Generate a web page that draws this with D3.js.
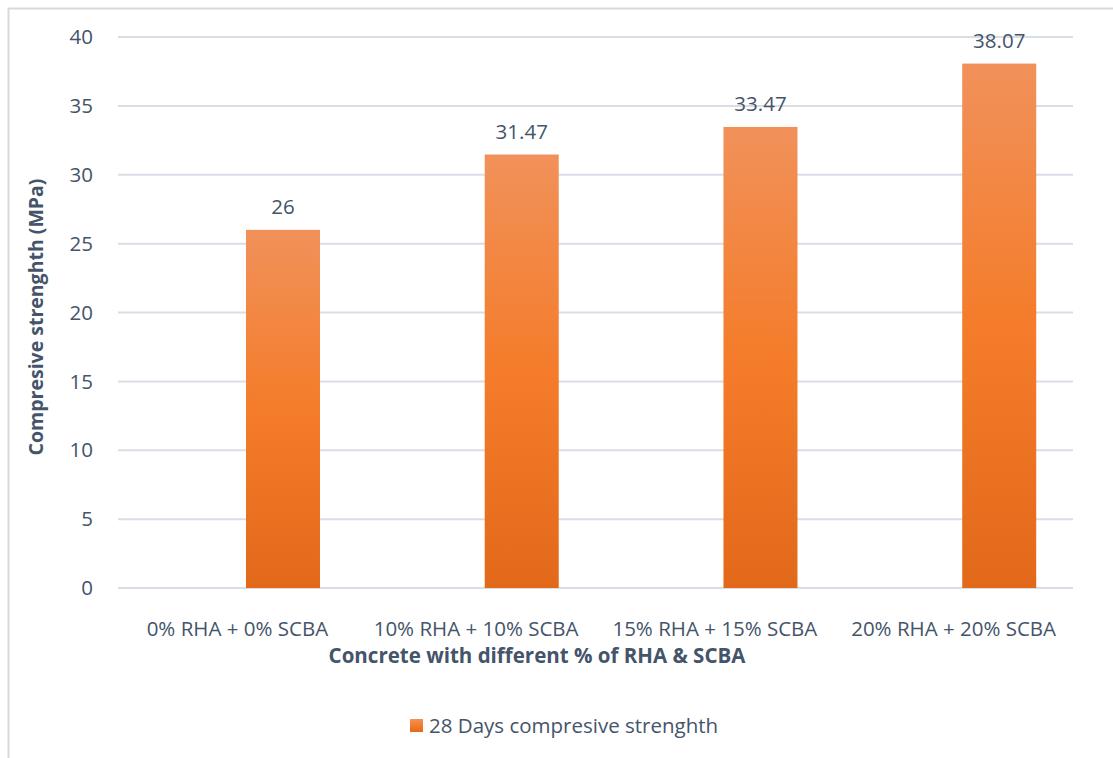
<!DOCTYPE html>
<html>
<head>
<meta charset="utf-8">
<script src="https://cdn.jsdelivr.net/npm/d3@7"></script>
<style>
  body { margin: 0; background: #fff; }
  text { font-family: "Open Sans", sans-serif; fill: #44546A; }
</style>
</head>
<body>
<div id="chart"></div>
<script>
const width = 1113;
const height = 758;

// chart data
const categories = ["0% RHA + 0% SCBA", "10% RHA + 10% SCBA", "15% RHA + 15% SCBA", "20% RHA + 20% SCBA"];
const strength28 = [26, 31.47, 33.47, 38.07];
const valueLabels = ["26", "31.47", "33.47", "38.07"];
const yTicks = [0, 5, 10, 15, 20, 25, 30, 35, 40];

const margin = { top: 37, right: 40, bottom: 170, left: 118 };
const fs = "20.5px";

const svg = d3.select("#chart").append("svg")
    .attr("width", width)
    .attr("height", height);

// gradient like the excel fill
const grad = svg.append("defs").append("linearGradient")
    .attr("id", "barFill")
    .attr("x1", 0).attr("y1", 0).attr("x2", 0).attr("y2", 1);
grad.append("stop").attr("offset", "0%").attr("stop-color", "#F1915A");
grad.append("stop").attr("offset", "50%").attr("stop-color", "#F47C2A");
grad.append("stop").attr("offset", "100%").attr("stop-color", "#E3691A");

// outer frame (left and top edges only visible)
svg.append("path")
    .attr("d", `M8.5,${height} V8.5 H${width}`)
    .attr("fill", "none")
    .attr("stroke", "#D9D9D9")
    .attr("stroke-width", 2);

const x = d3.scaleBand()
    .domain(categories)
    .range([margin.left, width - margin.right]);

const y = d3.scaleLinear()
    .domain([0, 40])
    .range([height - margin.bottom, margin.top]);

// gridlines
svg.append("g")
    .selectAll("line")
    .data(yTicks)
    .enter().append("line")
    .attr("x1", margin.left)
    .attr("x2", width - margin.right)
    .attr("y1", d => y(d))
    .attr("y2", d => y(d))
    .attr("stroke", "#D9DEE6")
    .attr("stroke-width", 2);

// y tick labels
svg.append("g")
    .selectAll("text")
    .data(yTicks)
    .enter().append("text")
    .attr("x", 93)
    .attr("y", d => y(d))
    .attr("dy", "0.35em")
    .attr("text-anchor", "end")
    .attr("font-size", fs)
    .text(d => d);

// bars sit in the right part of each band (second series slot)
const barOffset = 0.536;
const barWidth = 0.31;

svg.append("g")
    .selectAll("rect")
    .data(strength28)
    .enter().append("rect")
    .attr("x", (d, i) => x(categories[i]) + x.bandwidth() * barOffset)
    .attr("width", x.bandwidth() * barWidth)
    .attr("y", d => y(d))
    .attr("height", d => y(0) - y(d))
    .attr("fill", "url(#barFill)");

// value labels
svg.append("g")
    .selectAll("text")
    .data(strength28)
    .enter().append("text")
    .attr("x", (d, i) => x(categories[i]) + x.bandwidth() * (barOffset + barWidth / 2))
    .attr("y", d => y(d) - 16)
    .attr("text-anchor", "middle")
    .attr("font-size", fs)
    .text((d, i) => valueLabels[i]);

// category labels
svg.append("g")
    .selectAll("text")
    .data(categories)
    .enter().append("text")
    .attr("x", d => x(d) + x.bandwidth() / 2)
    .attr("y", 636)
    .attr("text-anchor", "middle")
    .attr("font-size", fs)
    .text(d => d);

// axis titles
svg.append("text")
    .attr("x", 537)
    .attr("y", 663)
    .attr("text-anchor", "middle")
    .attr("font-size", fs)
    .attr("font-weight", "bold")
    .text("Concrete with different % of RHA & SCBA");

svg.append("text")
    .attr("transform", "translate(43,317) rotate(-90)")
    .attr("text-anchor", "middle")
    .attr("font-size", "19.5px")
    .attr("font-weight", "bold")
    .text("Compresive strenghth (MPa)");

// legend
const legend = svg.append("g").attr("transform", "translate(410,719)");
legend.append("rect")
    .attr("width", 13)
    .attr("height", 13)
    .attr("fill", "url(#barFill)");
legend.append("text")
    .attr("x", 19)
    .attr("y", 7)
    .attr("dy", "0.35em")
    .attr("font-size", fs)
    .text("28 Days compresive strenghth");
</script>
</body>
</html>
